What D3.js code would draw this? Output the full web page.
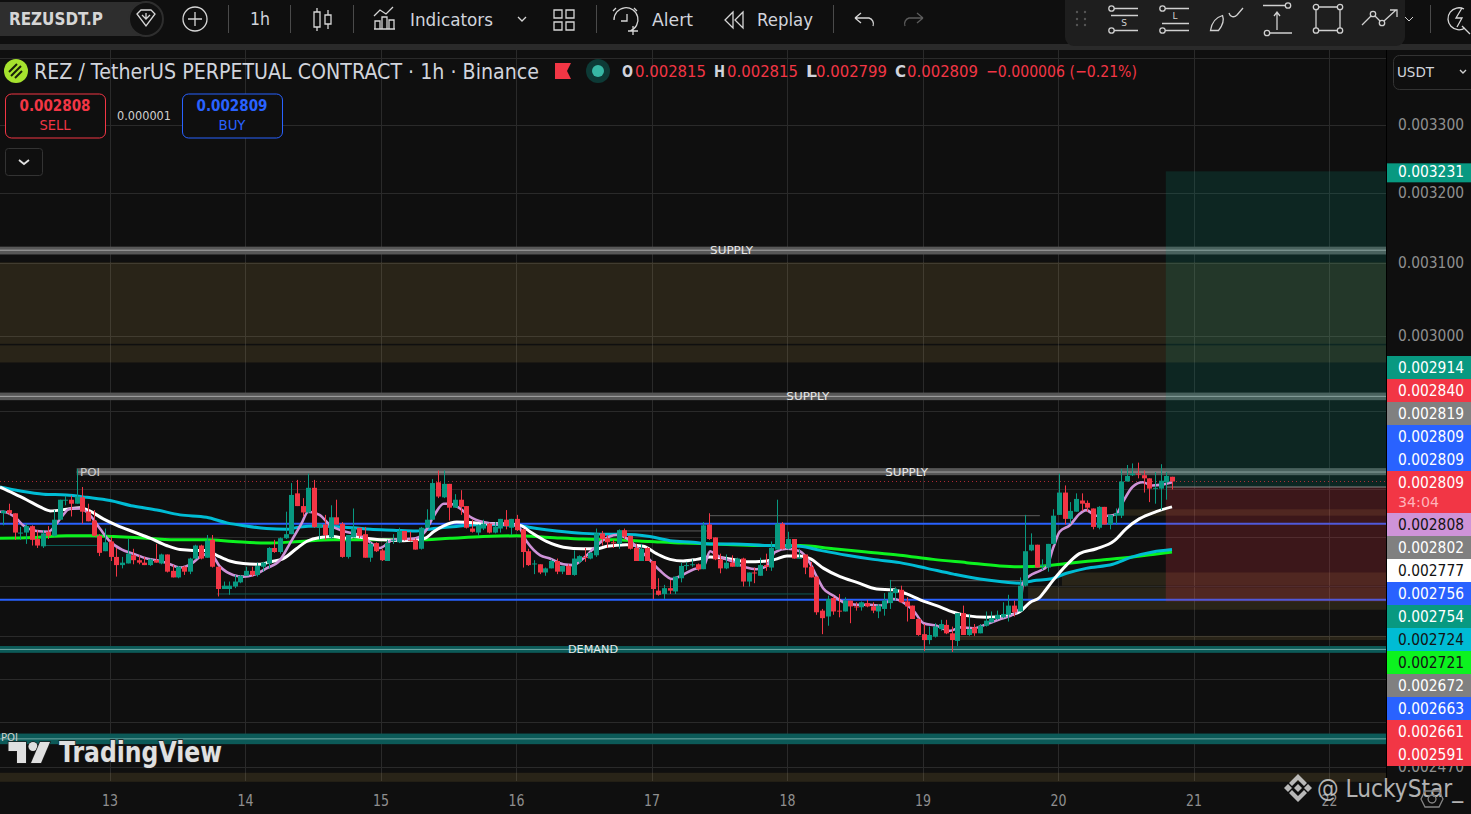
<!DOCTYPE html>
<html>
<head>
<meta charset="utf-8">
<title>REZUSDT.P</title>
<script src="https://cdn.jsdelivr.net/npm/d3@7/dist/d3.min.js"></script>
<style>
  html, body { margin: 0; background: #0f0f0f; overflow: hidden; }
  svg { display: block; }
  text { font-family: "DejaVu Sans", Roboto, sans-serif; }
</style>
</head>
<body>
<svg id="chart" width="1471" height="814"></svg>
<script>
// prices are kept in millionths of USDT (the symbol's tick size)
const opens = [
  2769,2773,2769,2744,2745,2753,2737,2728,2746,2741,
  2761,2785,2786,2781,2789,2771,2760,2741,2722,2734,
  2715,2705,2707,2717,2711,2708,2705,2711,2707,2718,
  2698,2690,2703,2697,2713,2729,2714,2736,2703,2676,
  2676,2679,2684,2692,2698,2693,2703,2707,2726,2721,
  2738,2743,2794,2778,2770,2801,2751,2755,2739,2764,
  2756,2715,2739,2751,2743,2714,2732,2723,2710,2735,
  2733,2747,2736,2736,2725,2751,2761,2808,2789,2806,
  2776,2786,2778,2750,2745,2750,2756,2745,2750,2761,
  2751,2762,2749,2722,2706,2706,2696,2701,2710,2697,
  2704,2693,2709,2715,2713,2717,2744,2738,2733,2731,
  2748,2741,2726,2710,2726,2710,2674,2670,2677,2673,
  2689,2704,2705,2706,2700,2755,2739,2712,2701,2708,
  2703,2713,2685,2696,2692,2705,2702,2724,2756,2725,
  2737,2713,2718,2703,2691,2650,2643,2665,2650,2649,
  2662,2655,2654,2659,2655,2649,2652,2659,2671,2675,
  2661,2656,2640,2622,2615,2619,2628,2633,2623,2614,
  2647,2621,2630,2623,2632,2636,2640,2642,2645,2656,
  2649,2680,2723,2730,2704,2702,2731,2767,2795,2762,
  2771,2785,2782,2775,2751,2777,2755,2766,2766,2809,
  2817,2819,2817,2813,2800,2800,2808,2815
];
const highs = [
  2773,2781,2769,2752,2756,2754,2748,2748,2753,2773,
  2786,2791,2791,2825,2802,2781,2773,2743,2750,2740,
  2726,2715,2737,2725,2717,2715,2713,2731,2719,2718,
  2705,2704,2704,2714,2730,2730,2742,2742,2703,2685,
  2685,2693,2693,2703,2703,2708,2709,2727,2736,2739,
  2771,2807,2811,2788,2819,2811,2756,2767,2779,2786,
  2758,2742,2775,2751,2752,2733,2733,2725,2736,2743,
  2751,2747,2746,2738,2752,2774,2812,2823,2823,2806,
  2793,2798,2778,2761,2755,2761,2757,2758,2762,2773,
  2762,2767,2750,2725,2711,2706,2702,2712,2713,2704,
  2706,2723,2717,2726,2721,2750,2747,2742,2736,2749,
  2750,2741,2731,2731,2727,2710,2689,2681,2687,2691,
  2708,2709,2712,2707,2758,2769,2739,2719,2718,2717,
  2714,2714,2696,2702,2714,2719,2734,2786,2758,2746,
  2737,2725,2718,2709,2691,2652,2668,2667,2670,2666,
  2662,2660,2661,2663,2660,2658,2671,2687,2678,2680,
  2666,2656,2641,2634,2631,2635,2639,2639,2631,2647,
  2656,2646,2634,2634,2649,2649,2650,2660,2669,2662,
  2690,2767,2744,2730,2712,2731,2774,2819,2804,2783,
  2794,2794,2785,2775,2778,2777,2767,2775,2825,2830,
  2832,2833,2823,2813,2821,2831,2821,2815
];
const lows = [
  2754,2767,2736,2736,2731,2729,2726,2726,2737,2740,
  2761,2779,2765,2781,2756,2759,2740,2716,2722,2710,
  2691,2701,2707,2706,2706,2705,2704,2708,2706,2696,
  2690,2689,2693,2694,2712,2712,2714,2702,2667,2676,
  2669,2677,2683,2692,2691,2691,2697,2701,2720,2719,
  2737,2743,2778,2765,2769,2751,2736,2736,2737,2755,
  2714,2713,2739,2738,2714,2709,2721,2710,2710,2731,
  2732,2735,2734,2724,2724,2751,2760,2788,2788,2760,
  2776,2767,2750,2745,2741,2748,2744,2744,2745,2749,
  2742,2747,2702,2704,2694,2694,2692,2701,2694,2694,
  2693,2692,2707,2709,2712,2715,2729,2726,2726,2725,
  2736,2724,2710,2710,2710,2664,2668,2664,2670,2670,
  2684,2699,2703,2698,2700,2736,2711,2695,2700,2703,
  2703,2679,2679,2683,2692,2698,2698,2724,2724,2724,
  2713,2713,2694,2690,2645,2622,2632,2645,2642,2649,
  2635,2650,2650,2654,2647,2641,2644,2652,2662,2659,
  2637,2640,2620,2602,2610,2618,2626,2622,2601,2608,
  2621,2620,2620,2623,2631,2636,2639,2641,2637,2643,
  2649,2679,2722,2702,2699,2697,2730,2767,2755,2756,
  2771,2772,2771,2749,2749,2755,2749,2755,2763,2809,
  2816,2813,2795,2783,2781,2773,2786,2799
];
const closes = [
  2772,2769,2745,2745,2753,2736,2729,2744,2741,2761,
  2786,2786,2781,2790,2771,2759,2741,2720,2733,2715,
  2705,2708,2719,2711,2708,2705,2712,2708,2718,2697,
  2690,2703,2697,2713,2729,2713,2735,2703,2676,2680,
  2680,2685,2692,2698,2693,2704,2708,2726,2721,2738,
  2743,2792,2778,2770,2801,2752,2756,2742,2764,2755,
  2715,2742,2750,2741,2714,2731,2722,2711,2732,2736,
  2747,2736,2735,2724,2751,2761,2807,2790,2806,2776,
  2786,2777,2751,2746,2754,2756,2745,2752,2762,2753,
  2762,2748,2721,2705,2707,2696,2701,2710,2697,2704,
  2693,2713,2716,2714,2720,2744,2737,2733,2732,2748,
  2740,2725,2710,2725,2710,2676,2669,2677,2674,2691,
  2704,2705,2706,2700,2754,2737,2712,2701,2708,2703,
  2713,2685,2696,2695,2705,2703,2726,2756,2725,2737,
  2713,2714,2702,2690,2648,2641,2664,2649,2649,2662,
  2655,2654,2660,2655,2650,2656,2662,2672,2676,2660,
  2655,2640,2621,2615,2621,2631,2634,2623,2615,2647,
  2621,2628,2623,2632,2638,2641,2645,2646,2656,2648,
  2680,2722,2730,2702,2705,2731,2766,2795,2762,2772,
  2787,2781,2776,2752,2777,2755,2767,2769,2809,2816,
  2819,2818,2813,2800,2801,2810,2816,2809
];

// moving averages as [bar, price]
const maPink = [
  [-0.6,2771],[0,2771],[2.4,2762],[3.5,2754],[5.9,2747],[8,2746],[9.2,2754],[10.6,2767],[11.8,2775],[13.6,2775],
  [15.3,2767],[17.1,2750],[18.9,2734],[21,2724],[23,2719],[25.4,2713],[27.2,2711],[29.2,2707],[31.3,2702],[33.4,2707],
  [34.8,2715],[36.6,2719],[38.4,2703],[40.7,2693],[42.5,2691],[44.3,2693],[46.6,2701],[49,2711],[50.8,2732],[52.8,2756],
  [54,2771],[56,2767],[57.9,2754],[60.2,2747],[62,2744],[63,2742],[64.4,2736],[66.7,2726],[69,2736],[73,2738],
  [74.7,2746],[76.2,2765],[78,2781],[79.1,2781],[80.9,2775],[82.6,2765],[85,2758],[86.8,2756],[91,2754],[92.7,2734],
  [95.1,2717],[96.8,2713],[99.2,2706],[100.9,2705],[102.7,2713],[104.5,2725],[106.3,2736],[108.6,2742],[110.4,2738],[112.2,2727],
  [114,2715],[116.2,2699],[118.5,2688],[120.3,2693],[122.3,2700],[124,2703],[125.2,2722],[126.4,2717],[129.3,2709],[131.6,2702],
  [133.4,2700],[135.2,2704],[136.7,2721],[138.8,2725],[141.1,2722],[142.9,2707],[144,2692],[145.2,2677],[147,2668],[148.8,2660],
  [151.1,2657],[153.5,2657],[155.3,2656],[157.7,2664],[159.4,2660],[161.2,2650],[163,2635],[165.3,2632],[167.7,2626],[169.5,2630],
  [171.8,2629],[174.2,2634],[176.6,2640],[179,2646],[180.1,2654],[180.6,2683],[181.8,2692],[183.6,2698],[184.8,2703],[186,2727],
  [187.1,2746],[188.9,2754],[190.6,2768],[191.8,2773],[193.6,2766],[195.9,2766],[197.1,2768],[198.3,2783],[200,2802],[201.8,2808],
  [203.5,2804],[205.3,2805],[207,2808]
];
const maWhite = [
  [-0.6,2802],[1.8,2794],[4.1,2786],[6.5,2777],[8.3,2772],[11.2,2774],[13.6,2776],[15.3,2772],[17.7,2762],[20.1,2754],
  [23,2746],[26,2738],[28.9,2729],[31.3,2724],[33.6,2723],[36,2723],[37.8,2717],[40.1,2710],[42.5,2707],[45.5,2706],
  [47.2,2709],[49.6,2713],[51.9,2725],[53.7,2734],[56.1,2739],[58.4,2740],[60.8,2738],[62,2740],[64.4,2738],[67.3,2736],
  [70.9,2735],[74.7,2738],[76.2,2746],[77.9,2753],[80.3,2758],[83.8,2757],[88,2756],[91.5,2754],[93.3,2746],[96.2,2734],
  [99.2,2727],[102.7,2725],[105.1,2725],[106.9,2728],[110.4,2730],[113.4,2728],[115.7,2719],[118.1,2712],[120.4,2710],[122.8,2712],
  [125.2,2715],[129.3,2712],[131.7,2709],[135.2,2710],[136.7,2712],[138.8,2716],[141.1,2716],[142.9,2713],[145.3,2701],[148.2,2691],
  [151.2,2684],[154.7,2676],[157.6,2675],[160,2670],[162.4,2663],[165.3,2656],[168.3,2648],[170.6,2644],[174.2,2642],[177.7,2644],
  [180.1,2649],[181.9,2660],[183.6,2666],[184.2,2671],[186,2687],[188.3,2705],[190.6,2719],[193.6,2725],[196.8,2735],[198.9,2750],
  [201.2,2762],[204.2,2771],[207,2777]
];
const maCyan = [
  [-0.6,2802],[3,2797],[7.1,2793],[11.2,2792],[14.8,2789],[18.9,2785],[23,2778],[27.2,2773],[31.3,2767],[36,2764],
  [39.6,2757],[43.1,2753],[46.6,2750],[50.2,2749],[52.5,2752],[55.5,2753],[59.6,2752],[62,2751],[65,2749],[69.1,2748],
  [73.2,2747],[76.2,2750],[80.9,2753],[85,2755],[90.9,2754],[94.5,2750],[98,2747],[102.7,2744],[106.3,2743],[109.8,2743],
  [114.5,2740],[118.1,2735],[122.2,2733],[125.2,2731],[129.3,2731],[135.2,2729],[141.1,2728],[144.7,2723],[149.4,2717],[154.1,2712],
  [158.8,2708],[163.6,2701],[168.3,2694],[173,2688],[176.5,2685],[180.1,2683],[182.4,2686],[185.4,2688],[188.3,2695],[191.8,2701],
  [196.5,2706],[200,2715],[203.6,2721],[207,2724]
];
const maGreen = [
  [-0.6,2738],[5.3,2739],[11.2,2741],[15.9,2741],[19.5,2740],[25.4,2738],[31.3,2736],[36,2736],[40.7,2734],[46.6,2732],
  [52.5,2734],[58.4,2736],[67.3,2736],[73.2,2736],[79.1,2738],[85,2740],[90.9,2741],[96.8,2739],[102.7,2737],[108.6,2736],
  [114.5,2734],[120.4,2732],[125.2,2731],[129.3,2730],[135.2,2729],[141.1,2729],[147,2725],[152.9,2721],[158.8,2717],[164.7,2712],
  [170.6,2708],[176.5,2704],[180.1,2703],[184.2,2704],[188.3,2707],[194.2,2711],[200,2715],[203.6,2718],[207,2721]
];

const dayBars = [19,43,67,91,115,139,163,187,211,235];
const dayLabels = ["13","14","15","16","17","18","19","20","21","22"];
const axisTicks = [3300,3200,3100,3000,2470];
const gridTicks = [3400,3300,3200,3100,3000,2900,2800,2740,2680,2620,2570,2520,2470];

// drawn levels: [top price, bottom price, centre price]
const supplyZones = [[3123,3112,3118],[2924,2914,2919],[2826,2817,2821]];
const supplyStartBars = [-1,-1,13];
const supplyLabelBars = [129,142.5,160];
const demandZones = [[2608,2600,2604],[2507,2495,2501]];
const oliveZones = [[3101,2989],[2987,2964],[2463,2453]];
const oliveRightZones = [[2774,2766],[2696,2680],[2678,2651],[2620,2615]];
const oliveRightStart = [198,187.5,181.5,169];
const blueLevels = [2756,2663];
// thin rays: [from bar, to bar, price]
const grayRays = [[125,183.6,2766],[157,183.6,2686],[110.4,125,2747]];
const tealRays = [[37.8,143.7,2670],[7,17,2729]];
const lastPrice = 2809;
const positionStartBar = 205.9;
const positionTop = 3231;
const positionEntry = 2802;
const positionStop = 2661;

const tagTexts = [2914,2840,2819,2809,2809,2809,2808,2802,2777,2756,2754,2724,2721,2672,2663,2661,2591];
const tagFills = ["#089981","#f23645","#808080","#2962ff","#2962ff","#f23645","#ce93d8","#808080","#ffffff","#2962ff","#089981","#00bcd4","#0cf21f","#808080","#2962ff","#f23645","#f23645"];
const tagInks = ["#fff","#fff","#fff","#fff","#fff","#fff","#131313","#fff","#131313","#fff","#fff","#131313","#131313","#fff","#fff","#fff","#fff"];

const GREEN = "#089981", RED = "#f23645", BLUE = "#2962ff", GREY = "#d1d4dc";
const plotRight = 1386;

const svg = d3.select("#chart");
svg.append("rect").attr("width", 1471).attr("height", 814).attr("fill", "#0f0f0f");

const x = d3.scaleLinear().domain([0, 207]).range([3.33, 1172]);
const y = d3.scaleLog().domain([3300, 2470]).range([124.5, 766.5]);
const priceText = d => (d / 1e6).toFixed(6);

// small text helper, textLength keeps the condensed look of the screenshot
function label(parent, str, px, py, size, fill, opts) {
    opts = opts || {};
    const t = parent.append("text")
        .attr("x", px).attr("y", py)
        .attr("font-size", size)
        .attr("fill", fill)
        .attr("font-weight", opts.weight || 400)
        .attr("text-anchor", opts.anchor || "start")
        .attr("dominant-baseline", "central")
        .text(str);
    if (opts.width) t.attr("textLength", opts.width).attr("lengthAdjust", "spacingAndGlyphs");
    return t;
}

// grid
const grid = svg.append("g").attr("stroke", "#2a2a2a").attr("stroke-width", 1);
grid.selectAll(".h").data(gridTicks).enter().append("line")
    .attr("x1", 0).attr("x2", plotRight)
    .attr("y1", d => Math.round(y(d)) + 0.5).attr("y2", d => Math.round(y(d)) + 0.5);
grid.selectAll(".v").data(dayBars).enter().append("line")
    .attr("x1", d => Math.round(x(d)) - 0.5).attr("x2", d => Math.round(x(d)) - 0.5)
    .attr("y1", 50).attr("y2", 781);

// olive zones
const olive = "rgba(255,213,100,0.11)";
svg.append("g").selectAll("rect").data(oliveZones).enter().append("rect")
    .attr("x", 0).attr("width", plotRight)
    .attr("y", d => y(d[0])).attr("height", d => y(d[1]) - y(d[0]))
    .attr("fill", olive);
svg.append("g").selectAll("rect").data(oliveRightZones).enter().append("rect")
    .attr("x", (d, i) => x(oliveRightStart[i])).attr("width", (d, i) => plotRight - x(oliveRightStart[i]))
    .attr("y", d => y(d[0])).attr("height", d => y(d[1]) - y(d[0]))
    .attr("fill", olive);

// thin rays
svg.append("g").selectAll("line").data(grayRays).enter().append("line")
    .attr("x1", d => x(d[0])).attr("x2", d => x(d[1]))
    .attr("y1", d => y(d[2])).attr("y2", d => y(d[2]))
    .attr("stroke", "#5c5c5c");
svg.append("g").selectAll("line").data(tealRays).enter().append("line")
    .attr("x1", d => x(d[0])).attr("x2", d => x(d[1]))
    .attr("y1", d => y(d[2])).attr("y2", d => y(d[2]))
    .attr("stroke", "#0d5a56");

// supply and demand bands
function bands(zones, startBars, fill, lineColor) {
    const g = svg.append("g");
    g.selectAll("rect").data(zones).enter().append("rect")
        .attr("x", (d, i) => Math.max(0, x(startBars[i])))
        .attr("width", (d, i) => plotRight - Math.max(0, x(startBars[i])))
        .attr("y", d => y(d[0])).attr("height", d => y(d[1]) - y(d[0]))
        .attr("fill", fill);
    g.selectAll("line").data(zones).enter().append("line")
        .attr("x1", (d, i) => Math.max(0, x(startBars[i]))).attr("x2", plotRight)
        .attr("y1", d => y(d[2])).attr("y2", d => y(d[2]))
        .attr("stroke", lineColor);
}
bands(supplyZones, supplyStartBars, "#575757", "#a6a6a6");
bands(demandZones, [-1, -1], "#0c5a58", "#6fa8a5");

// blue levels
svg.append("g").selectAll("line").data(blueLevels).enter().append("line")
    .attr("x1", 0).attr("x2", plotRight)
    .attr("y1", d => y(d)).attr("y2", d => y(d))
    .attr("stroke", BLUE).attr("stroke-width", 2);

// long position box
const posX = x(positionStartBar);
svg.append("rect").attr("x", posX).attr("width", plotRight - posX)
    .attr("y", y(positionTop)).attr("height", y(positionEntry) - y(positionTop))
    .attr("fill", "rgba(8,153,129,0.17)");
svg.append("rect").attr("x", posX).attr("width", plotRight - posX)
    .attr("y", y(positionEntry)).attr("height", y(positionStop) - y(positionEntry))
    .attr("fill", "rgba(242,54,69,0.2)");
svg.append("line").attr("x1", posX).attr("x2", plotRight)
    .attr("y1", y(positionEntry)).attr("y2", y(positionEntry))
    .attr("stroke", "#8a8a8a");

// last price dotted line
svg.append("line").attr("x1", 0).attr("x2", plotRight)
    .attr("y1", y(lastPrice)).attr("y2", y(lastPrice))
    .attr("stroke", RED).attr("stroke-opacity", 0.7).attr("stroke-dasharray", "1 3");

// moving averages
const maPath = d3.line().x(d => x(d[0])).y(d => y(d[1])).curve(d3.curveMonotoneX);
[[maGreen, "#0cf21f", 3], [maCyan, "#00bcd4", 3], [maWhite, "#ffffff", 3], [maPink, "#ce93d8", 2.6]].forEach(m => {
    svg.append("path").attr("d", maPath(m[0]))
        .attr("fill", "none").attr("stroke", m[1]).attr("stroke-width", m[2]);
});

// candles
const bars = d3.range(opens.length);
const candleColor = i => closes[i] >= opens[i] ? GREEN : RED;
const candles = svg.append("g");
candles.selectAll("line").data(bars).enter().append("line")
    .attr("x1", i => Math.round(x(i)) + 0.5).attr("x2", i => Math.round(x(i)) + 0.5)
    .attr("y1", i => y(highs[i])).attr("y2", i => y(lows[i]))
    .attr("stroke", candleColor);
candles.selectAll("rect").data(bars).enter().append("rect")
    .attr("x", i => Math.round(x(i)) - 2)
    .attr("width", 5)
    .attr("y", i => y(Math.max(opens[i], closes[i])))
    .attr("height", i => Math.max(1, Math.abs(y(opens[i]) - y(closes[i]))))
    .attr("fill", candleColor);

// drawing labels
const tagStyle = { anchor: "middle" };
supplyZones.forEach((z, i) => {
    label(svg, "SUPPLY", x(supplyLabelBars[i]), y(z[2]), 11, "#e8e8e8", Object.assign({ width: 43 }, tagStyle));
});
label(svg, "POI", 90, y(supplyZones[2][2]), 11, "#d0d0d0", Object.assign({ width: 20 }, tagStyle));
label(svg, "DEMAND", 593, y(demandZones[0][2]), 11, "#e8e8e8", Object.assign({ width: 50 }, tagStyle));
label(svg, "POI", 1, y(demandZones[1][2]) - 1, 11, "#d0d0d0", { width: 17 });

// right price axis
svg.append("rect").attr("x", plotRight).attr("y", 50).attr("width", 85).attr("height", 764).attr("fill", "#0f0f0f");
svg.append("line").attr("x1", plotRight + 0.5).attr("x2", plotRight + 0.5).attr("y1", 50).attr("y2", 781).attr("stroke", "#000");
const yAxis = svg.append("g").attr("transform", `translate(${plotRight},0)`)
    .call(d3.axisRight(y).tickValues(axisTicks).tickSize(0).tickPadding(12).tickFormat(priceText));
yAxis.select(".domain").remove();
yAxis.selectAll("text").attr("fill", "#8f8f8f").attr("font-size", 15)
    .attr("font-family", "DejaVu Sans").attr("textLength", 66).attr("lengthAdjust", "spacingAndGlyphs");

// time axis
const xAxis = svg.append("g").attr("transform", "translate(-1,791)")
    .call(d3.axisBottom(x).tickValues(dayBars).tickSize(0).tickPadding(4).tickFormat((d, i) => dayLabels[i]));
xAxis.select(".domain").remove();
xAxis.selectAll("text").attr("fill", "#8f8f8f").attr("font-size", 15).attr("font-family", "DejaVu Sans")
    .attr("textLength", 16).attr("lengthAdjust", "spacingAndGlyphs");

// price tags on the axis
const tags = svg.append("g");
function tag(top, h, fill) {
    tags.append("rect").attr("x", 1387).attr("y", top).attr("width", 84).attr("height", h).attr("fill", fill);
}
tag(y(positionTop) - 8, 19, GREEN);
label(tags, priceText(positionTop), 1431, y(positionTop) + 1, 15, "#fff", Object.assign({ width: 66 }, tagStyle));
let tagTop = 356;
tagTexts.forEach((v, i) => {
    const h = i === 5 ? 42 : 23;
    tag(tagTop, h, tagFills[i]);
    label(tags, priceText(v), 1431, tagTop + 11.5, 15, tagInks[i], Object.assign({ width: 66 }, tagStyle));
    if (i === 5) label(tags, "34:04", 1398, tagTop + 31, 14, "#ffb3ba", { width: 41 });
    tagTop += h;
});

// top bar
const bar = svg.append("g");
bar.append("rect").attr("x", 0).attr("y", 0).attr("width", 1471).attr("height", 44).attr("fill", "#0f0f0f");
bar.append("rect").attr("x", 0).attr("y", 44).attr("width", 1471).attr("height", 6).attr("fill", "#2a2a2a");
bar.append("rect").attr("x", -20).attr("y", 2).attr("width", 183).attr("height", 34).attr("rx", 17).attr("fill", "#2e2e2e");
bar.append("circle").attr("cx", 146).attr("cy", 19).attr("r", 17).attr("fill", "#111").attr("stroke", "#2e2e2e").attr("stroke-width", 2);
label(bar, "REZUSDT.P", 9, 19, 17, "#d6d6d6", { width: 94, weight: 700 });
label(bar, "1h", 250, 19, 17, GREY, { width: 20 });
label(bar, "Indicators", 410, 19, 18, GREY, { width: 83 });
label(bar, "Alert", 652, 19, 18, GREY, { width: 41 });
label(bar, "Replay", 757, 19, 18, GREY, { width: 56 });

const icons = bar.append("g").attr("fill", "none").attr("stroke", "#d6d6d6").attr("stroke-width", 1.3);
[
    "M137 14l4-4h10l4 4-9 12zM142 15l4 4 4-4M146 13v6",
    "M183 19a12 12 0 1 0 24 0a12 12 0 1 0-24 0M195 12v14M188 19h14",
    "M317 8v4M317 27v4M314 12h6v15h-6zM328 10v5M328 24v5M325 15h6v9h-6z",
    "M374 16l6-6 6 4 7-7M375 29v-8h5v8M382 29v-12h5v12M389 29v-9h5v9M374 29h21",
    "M518 17l4 4 4-4",
    "M554 10h8v8h-8zM566 10h8v8h-8zM554 22h8v8h-8zM566 22h8v8h-8z",
    "M614 20a12 12 0 1 1 16 11M627 14v7h-6M616 8l-3 3M634 8l3 3M633 26v9M628 31h10",
    "M733 12l-8 8 8 8zM743 12l-8 8 8 8z",
    "M855 18l6-5M855 18l6 5M855 18h14a6 6 0 0 1 4 8",
    "M923 18l-6-5M923 18l-6 5M923 18h-14a6 6 0 0 0-4 8"
].forEach((d, i) => {
    const p = icons.append("path").attr("d", d);
    if (i === 9) p.attr("stroke", "#5c5c5c");
});
bar.append("g").attr("stroke", "#4a4a4a").selectAll("line").data([228, 290, 353, 596, 833]).enter().append("line")
    .attr("x1", d => d + 0.5).attr("x2", d => d + 0.5).attr("y1", 5).attr("y2", 33);

// floating drawing toolbar
bar.append("path").attr("d", "M1065 0h340v37a9 9 0 0 1-9 9h-322a9 9 0 0 1-9-9z").attr("fill", "#1e1e1e");
const tools = bar.append("g").attr("fill", "none").attr("stroke", "#d0d0d0").attr("stroke-width", 1.3);
[
    "M1114 8.5h24M1111 15.5h27M1114 30.5h24",
    "M1165 8.5h24M1162 23.5h27M1165 30.5h24",
    "M1210.5 30.5c1-7 5-13 12-15 2 5 0 10-4 15zM1229 13c1 4 5 5 8 2l6-7",
    "M1263 5.5h22M1270 33h22M1277 30v-18M1274 16l3-4 3 4",
    "M1318 7h20M1318 30.5h20M1316 9v19M1340 9v19",
    "M1362 25l9-9M1375 16l5 5M1384 21l12-11M1390 10h7v7"
].forEach(d => tools.append("path").attr("d", d));
[[1111.5,8.5],[1111.5,30.5],[1162.5,8.5],[1162.5,30.5],[1267,33],[1288,5.5],[1316,7],[1340,7],[1316,30.5],[1340,30.5],[1373,14],[1382,23]].forEach(c => {
    tools.append("circle").attr("cx", c[0]).attr("cy", c[1]).attr("r", 2.7);
});
label(bar, "S", 1124, 23, 9, "#d0d0d0", { anchor: "middle" });
label(bar, "L", 1175, 16, 9, "#d0d0d0", { anchor: "middle" });
bar.append("g").attr("fill", "#555").selectAll("circle").data([[1077,12],[1085,12],[1077,19],[1085,19],[1077,25],[1085,25]]).enter().append("circle")
    .attr("cx", d => d[0]).attr("cy", d => d[1]).attr("r", 1.2);
bar.append("path").attr("d", "M1405 17l4 4 4-4").attr("fill", "none").attr("stroke", "#d0d0d0");
bar.append("line").attr("x1", 1430.5).attr("x2", 1430.5).attr("y1", 5).attr("y2", 33).attr("stroke", "#4a4a4a");
bar.append("path").attr("d", "M1464 9a11 11 0 1 0 1 19M1462 26l8 8M1462 8l-6 10h6l-5 9").attr("fill", "none").attr("stroke", "#d6d6d6").attr("stroke-width", 1.3);

// legend row
const legend = svg.append("g");
legend.append("circle").attr("cx", 16).attr("cy", 71).attr("r", 12).attr("fill", "#a6e22e");
legend.append("path").attr("d", "M9 72l8-8M11 76l10-10M15 78l7-7").attr("stroke", "#18200a").attr("stroke-width", 2);
label(legend, "REZ / TetherUS PERPETUAL CONTRACT · 1h · Binance", 34, 71, 22, GREY, { width: 505 });
legend.append("path").attr("d", "M555 63h16l-4 8 4 8h-16z").attr("fill", RED);
legend.append("circle").attr("cx", 598).attr("cy", 71).attr("r", 12).attr("fill", "#0d3a36");
legend.append("circle").attr("cx", 598).attr("cy", 71).attr("r", 6).attr("fill", "#37b8a5");
[["O", 622, "0.002815", 635], ["H", 714, "0.002815", 727], ["L", 806, "0.002799", 816], ["C", 895, "0.002809", 907]].forEach(r => {
    label(legend, r[0], r[1], 71, 16, GREY, { weight: 700, width: 11 });
    label(legend, r[2], r[3], 71, 16, RED, { width: 71 });
});
label(legend, "−0.000006 (−0.21%)", 986, 71, 16, RED, { width: 151 });

// sell / buy buttons
legend.append("rect").attr("x", 5.5).attr("y", 94).attr("width", 100).attr("height", 44).attr("rx", 6).attr("fill", "#0f0f0f").attr("stroke", RED);
label(legend, "0.002808", 55, 106, 15, RED, { anchor: "middle", weight: 700, width: 71 });
label(legend, "SELL", 55, 125, 14, RED, { anchor: "middle", width: 31 });
label(legend, "0.000001", 144, 116, 12, "#d0d0d0", { anchor: "middle", width: 54 });
legend.append("rect").attr("x", 182.5).attr("y", 94).attr("width", 100).attr("height", 44).attr("rx", 6).attr("fill", "#0f0f0f").attr("stroke", BLUE);
label(legend, "0.002809", 232, 106, 15, BLUE, { anchor: "middle", weight: 700, width: 71 });
label(legend, "BUY", 232, 125, 14, BLUE, { anchor: "middle", width: 27 });
legend.append("rect").attr("x", 5.5).attr("y", 148.5).attr("width", 37).attr("height", 27).attr("rx", 3).attr("fill", "#0f0f0f").attr("stroke", "#333");
legend.append("path").attr("d", "M19 160l5 4 5-4").attr("fill", "none").attr("stroke", "#e0e0e0").attr("stroke-width", 1.8);

// USDT selector
legend.append("rect").attr("x", 1393.5).attr("y", 55.5).attr("width", 90).attr("height", 34).attr("rx", 6).attr("fill", "#0f0f0f").attr("stroke", "#333");
label(legend, "USDT", 1397, 72, 14, GREY, { width: 37 });
legend.append("path").attr("d", "M1460 70l3 3 3-3").attr("fill", "none").attr("stroke", "#d0d0d0").attr("stroke-width", 1.4);

// TradingView logo
const logo = svg.append("g").attr("fill", "#e0e0e0").attr("stroke", "#1c1c1c").attr("stroke-width", 1.5).attr("paint-order", "stroke");
logo.append("path").attr("d", "M8.5 742H26V763H17V751H8.5Z");
logo.append("circle").attr("cx", 33).attr("cy", 746.5).attr("r", 4.5);
logo.append("path").attr("d", "M40 742H50L41 763H31Z");
label(logo, "TradingView", 59, 752, 28, "#e0e0e0", { width: 163, weight: 600 }).attr("font-family", "Inter");

// watermark
const wm = svg.append("g").attr("opacity", 0.85);
wm.append("g").attr("fill", "#d6d6d6").selectAll("path").data([
    "M1298 774l9 9-3 3-6-6-6 6-3-3z", "M1298 802l9-9-3-3-6 6-6-6-3 3z",
    "M1298 784l4 4-4 4-4-4z", "M1288 784l4 4-4 4-4-4z", "M1308 784l4 4-4 4-4-4z"
]).enter().append("path").attr("d", d => d);
label(wm, "@ LuckyStar_", 1317, 788, 25, "#cfcfcf", { width: 146 });
wm.append("path").attr("d", "M1425 791h14l4 8-4 8h-14l-4-8zM1432 795a4 4 0 1 0 0.1 0").attr("fill", "none").attr("stroke", "#9a9a9a").attr("stroke-width", 1.3);
</script>
</body>
</html>
